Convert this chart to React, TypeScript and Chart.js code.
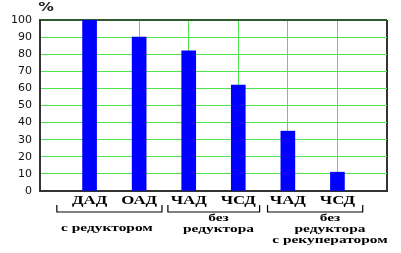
import React, { useEffect, useRef } from "react";
import { Chart, registerables } from "chart.js";

Chart.register(...registerables);

const categories = ["ДАД", "ОАД", "ЧАД", "ЧСД", "ЧАД", "ЧСД"];
const values = [100, 90, 82, 62, 35, 11];
const groupLabels = [
  ["с редуктором"],
  ["без", "редуктора"],
  ["без", "редуктора", "с рекуператором"],
];
const yUnit = "%";

// layout (in x-scale units / pixels)
const bracketSpans = [
  [0.34, 2.46],
  [2.58, 4.43],
  [4.59, 6.51],
];
const groupAnchors = [1.35, 3.6, 5.85];
const groupStartY = [228, 218, 218];

const GREEN = "#4fe34f";
const DARK = "#333333";
const TOP = "#2f5a2f";

export default function App() {
  const ref = useRef<HTMLCanvasElement | null>(null);

  useEffect(() => {
    document.body.style.margin = "0";
    const canvas = ref.current!;
    const stretchText = (ctx: CanvasRenderingContext2D, text: string, x: number, y: number, sx: number) => {
      ctx.save();
      ctx.translate(x, y);
      ctx.scale(sx, 1);
      ctx.fillText(text, 0, 0);
      ctx.restore();
    };
    const labelsPlugin = {
      id: "labelsPlugin",
      afterDraw(chart: any) {
        const ctx: CanvasRenderingContext2D = chart.ctx;
        const xs = chart.scales.x;
        const area = chart.chartArea;
        ctx.save();
        ctx.fillStyle = "#000";
        ctx.textAlign = "center";
        ctx.textBaseline = "middle";
        ctx.font = 'bold 12px "Liberation Serif"';
        categories.forEach((c, i) => {
          stretchText(ctx, c, xs.getPixelForValue(i + 1), area.bottom + 10, 1.4);
        });
        // brackets
        ctx.strokeStyle = "#000";
        ctx.lineWidth = 1.2;
        bracketSpans.forEach(([a, b]) => {
          const x1 = xs.getPixelForValue(a);
          const x2 = xs.getPixelForValue(b);
          const yb = area.bottom + 21;
          ctx.beginPath();
          ctx.moveTo(x1, yb - 7);
          ctx.lineTo(x1, yb);
          ctx.lineTo(x2, yb);
          ctx.lineTo(x2, yb - 7);
          ctx.stroke();
        });
        ctx.font = 'bold 11px "Liberation Serif"';
        groupLabels.forEach((lines, g) => {
          const cx = xs.getPixelForValue(groupAnchors[g]);
          lines.forEach((t, li) => {
            stretchText(ctx, t, cx, groupStartY[g] + li * 11, 1.4);
          });
        });
        // unit
        ctx.fillStyle = "#222";
        ctx.font = 'bold 12px "DejaVu Sans"';
        stretchText(ctx, yUnit, area.left + 6, area.top - 12, 1.3);
        ctx.restore();
      },
    };

    const chart = new Chart(canvas, {
      type: "bar",
      data: {
        datasets: [
          {
            data: values.map((v, i) => ({ x: i + 1, y: v })),
            backgroundColor: "#0000ff",
            borderWidth: 0,
            barThickness: 14,
          },
        ],
      },
      options: {
        animation: false,
        responsive: false,
        layout: { padding: { top: 20, right: 14, left: 0, bottom: 0 } },
        plugins: {
          legend: { display: false },
          tooltip: { enabled: false },
        },
        scales: {
          x: {
            type: "linear",
            min: 0,
            max: 7,
            offset: false,
            ticks: { display: false, stepSize: 1 },
            grid: {
              offset: false,
              drawTicks: false,
              color: (c: any) => (c.tick && (c.tick.value === 0 || c.tick.value === 7) ? DARK : GREEN),
              lineWidth: (c: any) => (c.tick && (c.tick.value === 0 || c.tick.value === 7) ? 2 : 1),
            },
            border: { display: true, color: DARK, width: 2 },
            afterFit: (s: any) => {
              s.height = 62;
            },
          },
          y: {
            min: 0,
            max: 100,
            ticks: {
              stepSize: 10,
              padding: 8,
              color: "#111",
              font: { family: "DejaVu Sans", size: 11 },
            },
            grid: {
              drawTicks: false,
              color: (c: any) => (c.tick && c.tick.value === 100 ? TOP : GREEN),
              lineWidth: (c: any) => (c.tick && c.tick.value === 100 ? 2 : 1),
            },
            border: { display: true, color: DARK, width: 2 },
            afterFit: (s: any) => {
              s.width = 40;
            },
          },
        },
      },
      plugins: [labelsPlugin],
    } as any);
    return () => chart.destroy();
  }, []);

  return (
    <div style={{ width: 401, height: 253, background: "#fff" }}>
      <canvas ref={ref} width={401} height={253} />
    </div>
  );
}
